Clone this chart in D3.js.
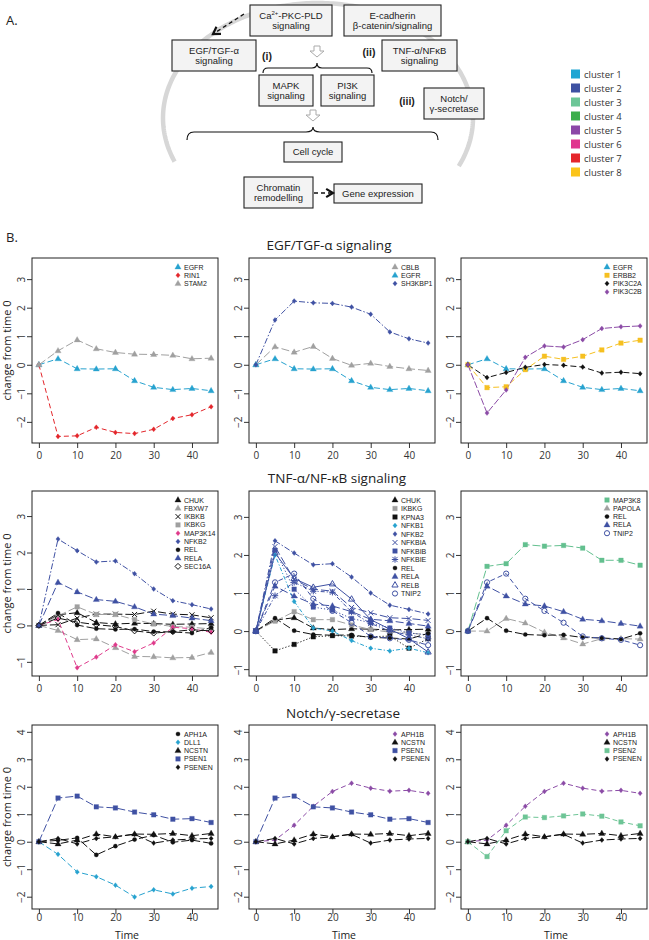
<!DOCTYPE html>
<html><head><meta charset="utf-8">
<script src="https://cdn.jsdelivr.net/npm/d3@7"></script>
<style>body{margin:0;background:#fff}</style>
</head><body><svg id="c" width="649" height="940"></svg>
<script>
// ---------------- data ----------------
const time = [0,5,10,15,20,25,30,35,40,45];
const xTicks = [0,10,20,30,40];

const EGFR    = [0, 0.21,-0.14,-0.15,-0.14,-0.56,-0.79,-0.87,-0.83,-0.91];
const RIN1    = [0,-2.51,-2.49,-2.19,-2.37,-2.41,-2.26,-1.88,-1.75,-1.47];
const STAM2   = [0, 0.49, 0.87, 0.56, 0.43, 0.37, 0.36, 0.33, 0.21, 0.23];
const CBLB    = [0, 0.63, 0.44, 0.64, 0.22,-0.02, 0.05,-0.06,-0.14,-0.20];
const SH3KBP1 = [0, 1.57, 2.23, 2.17, 2.15, 2.02, 1.77, 1.15, 0.91, 0.76];
const ERBB2   = [0,-0.80,-0.77,-0.17, 0.30, 0.19, 0.30, 0.52, 0.76, 0.86];
const PIK3C2A = [0,-0.45,-0.27,-0.09, 0.01,-0.02,-0.08,-0.29,-0.26,-0.31];
const PIK3C2B = [0,-1.69,-0.88, 0.26, 0.66, 0.62, 0.88, 1.27, 1.33, 1.36];

const CHUK    = [0, 0.29, 0.35, 0.08, 0.04, 0.06, 0.05, 0.03, 0.04, 0.05];
const FBXW7   = [0,-0.14,-0.39,-0.37,-0.61,-0.85,-0.86,-0.89,-0.88,-0.74];
const IKBKB   = [0, 0.02, 0.20, 0.31, 0.31, 0.30, 0.39, 0.31, 0.29, 0.21];
const IKBKG   = [0, 0.26, 0.51, 0.30, 0.30, 0.16, 0.04,-0.03,-0.05,-0.10];
const MAP3K14 = [0, 0.16,-1.16,-0.87,-0.53,-0.72,-0.48,-0.05,-0.09,-0.19];
const NFKB2   = [0, 2.37, 2.05, 1.74, 1.77, 1.42, 1.00, 0.68, 0.57, 0.45];
const REL     = [0, 0.34, 0.01,-0.09,-0.11,-0.10,-0.17,-0.18,-0.21,-0.06];
const RELA    = [0, 1.18, 0.92, 0.71, 0.66, 0.51, 0.31, 0.27, 0.20, 0.13];
const SEC16A  = [0, 0.20, 0.09, 0.02,-0.03,-0.15,-0.21,-0.17,-0.12,-0.15];
const KPNA3   = [0,-0.52,-0.35,-0.15,-0.12,-0.13,-0.15,-0.13,-0.45,-0.20];
const NFKB1   = [0, 2.00, 0.78, 0.08, 0.00,-0.25,-0.45,-0.52,-0.45,-0.57];
const NFKBIA  = [0, 2.22, 1.35, 1.10, 1.05, 0.62, 0.48, 0.35, 0.33, 0.28];
const NFKBIB  = [0, 2.12, 1.10, 0.63, 0.55, 0.33, 0.22, 0.08,-0.05,-0.10];
const NFKBIE  = [0, 0.93, 1.28, 1.05, 1.02, 0.50, 0.20, 0.00,-0.10,-0.20];
const RELB    = [0, 2.05, 1.38, 1.15, 1.24, 0.84, 0.30, 0.05,-0.20,-0.55];
const TNIP2   = [0, 1.28, 1.51, 0.85, 0.53, 0.22,-0.14,-0.19,-0.23,-0.37];
const MAP3K8  = [0, 1.70, 1.77, 2.27, 2.23, 2.25, 2.18, 1.86, 1.86, 1.73];
const PAPOLA  = [0, 0.00, 0.33, 0.21,-0.03,-0.18,-0.34,-0.20,-0.20,-0.21];

const APH1A   = [0, 0.05, 0.14,-0.48,-0.16, 0.08, 0.24,-0.02, 0.06,-0.06];
const DLL1    = [0,-0.46,-1.10,-1.27,-1.58,-2.01,-1.75,-1.90,-1.69,-1.63];
const NCSTN   = [0,-0.08, 0.06, 0.28, 0.18, 0.28, 0.27, 0.30, 0.22, 0.30];
const PSEN1   = [0, 1.59, 1.66, 1.27, 1.23, 1.08, 0.98, 0.82, 0.84, 0.70];
const PSENEN  = [0, 0.12,-0.08, 0.12, 0.18, 0.27,-0.05, 0.06, 0.10, 0.12];
const APH1B   = [0, 0.06, 0.60, 1.29, 1.83, 2.13, 1.95, 1.84, 1.87, 1.76];
const PSEN2   = [0,-0.54, 0.40, 0.90, 0.88, 0.94, 1.01, 0.93, 0.72, 0.58];

const clusterLabels = ["cluster 1","cluster 2","cluster 3","cluster 4","cluster 5","cluster 6","cluster 7","cluster 8"];
const rowTitles = ["EGF/TGF-α signaling","TNF-α/NF-κB signaling","Notch/γ-secretase"];
const panelGenes = [
  [["EGFR","RIN1","STAM2"],["CBLB","EGFR","SH3KBP1"],["EGFR","ERBB2","PIK3C2A","PIK3C2B"]],
  [["CHUK","FBXW7","IKBKB","IKBKG","MAP3K14","NFKB2","REL","RELA","SEC16A"],
   ["CHUK","IKBKG","KPNA3","NFKB1","NFKB2","NFKBIA","NFKBIB","NFKBIE","REL","RELA","RELB","TNIP2"],
   ["MAP3K8","PAPOLA","REL","RELA","TNIP2"]],
  [["APH1A","DLL1","NCSTN","PSEN1","PSENEN"],["APH1B","NCSTN","PSEN1","PSENEN"],["APH1B","NCSTN","PSEN2","PSENEN"]]
];
const yLims = [
  [[-2.5,3.5],[-2.5,3.5],[-2.5,3.5]],
  [[-1.2,3.5],[-1,3.5],[-1,3.5]],
  [[-2.2,4],[-2.2,4],[-2.2,4]]
];
const yTickVals = [[-2,-1,0,1,2,3],[-1,0,1,2,3],[-2,-1,0,1,2,3,4]];

const series = {EGFR,RIN1,STAM2,CBLB,SH3KBP1,ERBB2,PIK3C2A,PIK3C2B,CHUK,FBXW7,IKBKB,IKBKG,MAP3K14,NFKB2,REL,RELA,SEC16A,
  KPNA3,NFKB1,NFKBIA,NFKBIB,NFKBIE,RELB,TNIP2,MAP3K8,PAPOLA,APH1A,DLL1,NCSTN,PSEN1,PSENEN,APH1B,PSEN2};

// ---------------- styles ----------------
const clusterColors = ["#1ea5d3","#3d51a2","#6cc697","#3cae4b","#8c47a7","#e0358e","#e5252b","#fbc41a"];
const C1="#27a2cf", C2="#3f51a3", C3="#63c08f", C5="#8b4ba6", C6="#df3a8b", C7="#e3262b", C8="#f6c020", G="#a0a0a0", K="#111";
const style = {
  EGFR:{c:C1,s:"tri",d:"6,3"}, RIN1:{c:C7,s:"dia",d:"5,3"}, STAM2:{c:G,s:"tri",d:"8,3"},
  CBLB:{c:G,s:"tri",d:"8,3"}, SH3KBP1:{c:C2,s:"dia",d:"6,2,1.5,2"}, ERBB2:{c:C8,s:"sq",d:"6,3"},
  PIK3C2A:{c:K,s:"dia",d:"6,3"}, PIK3C2B:{c:C5,s:"dia",d:"7,2"},
  CHUK:{c:K,s:"tri",d:"8,3"}, FBXW7:{c:G,s:"tri",d:"8,3"}, IKBKB:{c:K,s:"x",d:"8,3"}, IKBKG:{c:G,s:"sq",d:"8,3"},
  MAP3K14:{c:C6,s:"dia",d:"5,3"}, NFKB2:{c:C2,s:"dia",d:"6,2,1.5,2"}, REL:{c:K,s:"dot",d:"8,3"}, RELA:{c:C2,s:"tri",d:"8,3"},
  SEC16A:{c:K,s:"odia",d:"8,3"}, KPNA3:{c:K,s:"sq",d:"1.2,2"}, NFKB1:{c:C1,s:"dia",d:"4,2,1.2,2"},
  NFKBIA:{c:C2,s:"x",d:"8,3"}, NFKBIB:{c:C2,s:"sq",d:"1.2,2"}, NFKBIE:{c:C2,s:"ast",d:"4,2,1.2,2"},
  RELB:{c:C2,s:"otri",d:"none"}, TNIP2:{c:C2,s:"ocirc",d:"5,3"}, MAP3K8:{c:C3,s:"sq",d:"8,3"}, PAPOLA:{c:G,s:"tri",d:"8,3"},
  APH1A:{c:K,s:"dot",d:"8,3"}, DLL1:{c:C1,s:"dia",d:"6,3"}, NCSTN:{c:K,s:"tri",d:"8,3"}, PSEN1:{c:C2,s:"sq",d:"8,3"},
  PSENEN:{c:K,s:"dia",d:"8,3"}, APH1B:{c:C5,s:"dia",d:"5,3"}, PSEN2:{c:"#6dc596",s:"sq",d:"5,3"}
};
function markerPath(s){
  switch(s){
    case "tri": case "otri": return "M0,-3.4L3.1,2L-3.1,2Z";
    case "sq": return "M-2.3,-2.3H2.3V2.3H-2.3Z";
    case "dia": return "M0,-2.5L2.1,0L0,2.5L-2.1,0Z";
    case "odia": return "M0,-3L3,0L0,3L-3,0Z";
    case "dot": return "M2.1,0A2.1,2.1 0 1,1 -2.1,0A2.1,2.1 0 1,1 2.1,0Z";
    case "ocirc": return "M2.6,0A2.6,2.6 0 1,1 -2.6,0A2.6,2.6 0 1,1 2.6,0Z";
    case "x": return "M-2.5,-2.5L2.5,2.5M-2.5,2.5L2.5,-2.5";
    case "ast": return "M-2.6,-2.6L2.6,2.6M-2.6,2.6L2.6,-2.6M0,-3.2V3.2M-3.2,0H3.2";
  }
}
const filled = s => ["tri","sq","dia","dot"].includes(s);
function drawMarker(g, s, col, x, y){
  g.append("path").attr("d", markerPath(s)).attr("transform",`translate(${x},${y})`)
    .attr("fill", filled(s) ? col : "none").attr("stroke", col)
    .attr("stroke-width", filled(s) ? 0.3 : 1);
}

const svg = d3.select("#c");
svg.append("rect").attr("width",649).attr("height",940).attr("fill","#fff");

// ---------------- panel A: diagram ----------------
const A = svg.append("g");
const SANS = "'Liberation Sans', Arial, sans-serif";
A.append("text").attr("x",6).attr("y",25).text("A.").attr("font-family","'Open Sans',sans-serif").attr("font-size",13).attr("fill","#222");
const cx=318, cy=118, rx=155, ry=115;
const arcPts = d3.range(157.7, 385.6, 1).map(t => [cx+rx*Math.cos(t*Math.PI/180), cy+ry*Math.sin(t*Math.PI/180)]);
A.append("path").attr("d", d3.line()(arcPts)).attr("fill","none").attr("stroke","#d7d7d7").attr("stroke-width",4.5);

const boxes = [
  {l:["__CA__","signaling"], x:250,y:5,w:82,h:31},
  {l:["E-cadherin","β-catenin/signaling"], x:344,y:5,w:97,h:31},
  {l:["EGF/TGF-α","signaling"], x:172,y:40,w:84,h:31},
  {l:["TNF-α/NFκB","signaling"], x:382,y:40,w:75,h:31},
  {l:["MAPK","signaling"], x:259,y:75,w:54,h:31},
  {l:["PI3K","signaling"], x:321,y:75,w:53,h:31},
  {l:["Notch/","γ-secretase"], x:424,y:88,w:60,h:31},
  {l:["Cell cycle"], x:284,y:142,w:58,h:20},
  {l:["Chromatin","remodelling"], x:244,y:177,w:69,h:31},
  {l:["Gene expression"], x:334,y:184,w:88,h:19}
];
boxes.forEach(b=>{
  A.append("rect").attr("x",b.x).attr("y",b.y).attr("width",b.w).attr("height",b.h)
    .attr("fill","#f3f3f3").attr("stroke","#222").attr("stroke-width",1.1);
  const n=b.l.length, mid=b.y+b.h/2;
  b.l.forEach((t,i)=>{
    const ty = mid + (i-(n-1)/2)*10.5 + 3.4;
    const tx = A.append("text").attr("x",b.x+b.w/2).attr("y",ty).attr("text-anchor","middle")
      .attr("font-family",SANS).attr("font-size",9.5).attr("fill","#222");
    if(t==="__CA__"){
      tx.append("tspan").text("Ca");
      tx.append("tspan").text("2+").attr("font-size",6).attr("dy",-3.5);
      tx.append("tspan").text("-PKC-PLD").attr("dy",3.5);
    } else tx.text(t);
  });
});
[["(i)",267,60],["(ii)",369,56],["(iii)",407,105]].forEach(([t,x,y])=>{
  A.append("text").attr("x",x).attr("y",y).attr("text-anchor","middle").attr("font-family",SANS)
    .attr("font-weight","bold").attr("font-size",10.5).attr("fill","#222").text(t);
});
function hollowArrow(x,y){
  A.append("path").attr("d",`M${x-3},${y}L${x+3},${y}L${x+3},${y+5}L${x+7},${y+5}L${x},${y+11}L${x-7},${y+5}L${x-3},${y+5}Z`)
    .attr("fill","#fff").attr("stroke","#aaa").attr("stroke-width",1);
}
hollowArrow(317,46); hollowArrow(313,110);
A.append("path").attr("d","M263,73Q263,68 268,68L312,68Q317,68 317,63Q317,68 322,68L367,68Q372,68 372,73")
  .attr("fill","none").attr("stroke","#111").attr("stroke-width",1.2);
A.append("path").attr("d","M187,140Q187,132 194,132L306,132Q313,132 313,127Q313,132 320,132L431,132Q438,132 438,140")
  .attr("fill","none").attr("stroke","#111").attr("stroke-width",1.2);
function dashArrow(x1,y1,x2,y2){
  A.append("line").attr("x1",x1).attr("y1",y1).attr("x2",x2).attr("y2",y2)
    .attr("stroke","#111").attr("stroke-width",1.3).attr("stroke-dasharray","4,3");
  const a=Math.atan2(y1-y2,x1-x2), L=8, sp=0.55;
  const p1=[x2+L*Math.cos(a+sp), y2+L*Math.sin(a+sp)], p2=[x2+L*Math.cos(a-sp), y2+L*Math.sin(a-sp)];
  A.append("path").attr("d",`M${p1}L${x2},${y2}L${p2}`).attr("fill","none").attr("stroke","#111").attr("stroke-width",2.2);
}
dashArrow(244,14,213,34);
dashArrow(314,193,333,193);

// cluster legend
clusterLabels.forEach((t,i)=>{
  const y = 74 + i*14;
  svg.append("rect").attr("x",571).attr("y",y-4.5).attr("width",9).attr("height",9).attr("fill",clusterColors[i]);
  svg.append("text").attr("x",584).attr("y",y+3.5).attr("font-family","'Open Sans',sans-serif").attr("font-size",9.5)
    .attr("fill","#333").text(t);
});

// ---------------- panel B ----------------
svg.append("text").attr("x",6).attr("y",242).text("B.").attr("font-family","'Open Sans',sans-serif").attr("font-size",13).attr("fill","#222");

const cols = [[32,218],[249,435],[461,647]];
const rows = [[258,443],[491,676],[725,909]];
const titleX = [329,337,343], titleY = [250,483,718];
const tickLabelOffset = [9,9,5];
const TF = "'Open Sans', 'Noto Sans', sans-serif";

rows.forEach(([top,bot],r)=>{
  svg.append("text").attr("x",titleX[r]).attr("y",titleY[r]).attr("text-anchor","middle")
    .attr("font-family",TF).attr("font-size",13.5).attr("fill","#222").text(rowTitles[r]);
  cols.forEach(([left,right],c)=>{
    const g = svg.append("g");
    const x = d3.scaleLinear().domain([-1.8,46.8]).range([left,right]);
    const [y0,y1] = yLims[r][c], pad=(y1-y0)*0.04;
    const y = d3.scaleLinear().domain([y0-pad,y1+pad]).range([bot,top]);
    const xa = g.append("g").attr("transform",`translate(0,${bot})`)
      .call(d3.axisBottom(x).tickValues(xTicks).tickSize(5).tickFormat(d3.format("d")));
    xa.select(".domain").remove();
    xa.selectAll("text").attr("y",tickLabelOffset[r]).attr("font-family",TF).attr("font-size",10).attr("fill","#333");
    xa.selectAll("line").attr("stroke","#333");
    const ya = g.append("g").attr("transform",`translate(${left},0)`)
      .call(d3.axisLeft(y).tickValues(yTickVals[r]).tickSize(5).tickFormat(v=> v<0 ? "−"+Math.abs(v) : String(v)));
    ya.select(".domain").remove();
    ya.selectAll("line").attr("stroke","#333");
    ya.selectAll("text").attr("transform","rotate(-90)").attr("x",0).attr("y",-7).attr("dy",0)
      .style("text-anchor","middle").attr("font-family",TF).attr("font-size",10).attr("fill","#333");
    const genes = panelGenes[r][c];
    const line = d3.line().x((d,i)=>x(time[i])).y(d=>y(d));
    genes.forEach(gn=>{
      const st = style[gn];
      g.append("path").attr("d", line(series[gn])).attr("fill","none").attr("stroke",st.c)
        .attr("stroke-width",1).attr("stroke-dasharray",st.d);
    });
    genes.forEach(gn=>{
      const st = style[gn];
      series[gn].forEach((v,i)=> drawMarker(g, st.s, st.c, x(time[i]), y(v)));
    });
    g.append("rect").attr("x",left).attr("y",top).attr("width",right-left).attr("height",bot-top)
      .attr("fill","none").attr("stroke","#222").attr("stroke-width",1);
    const sp = genes.length>10 ? 8.5 : 8.3;
    genes.forEach((gn,i)=>{
      const ly = top + 9 + i*sp;
      drawMarker(g, style[gn].s, style[gn].c, right-40, ly);
      g.append("text").attr("x",right-34).attr("y",ly+2.5).attr("font-family",SANS).attr("font-size",7)
        .attr("fill","#222").text(gn);
    });
    if(c===0){
      svg.append("text").attr("transform",`translate(11,${(top+bot)/2}) rotate(-90)`).attr("text-anchor","middle")
        .attr("font-family",TF).attr("font-size",11).attr("fill","#222").text("change from time 0");
    }
    if(r===2){
      svg.append("text").attr("x",(left+right)/2+2).attr("y",938.5).attr("text-anchor","middle")
        .attr("font-family",TF).attr("font-size",10.5).attr("fill","#222").text("Time");
    }
  });
});
</script></body></html>
